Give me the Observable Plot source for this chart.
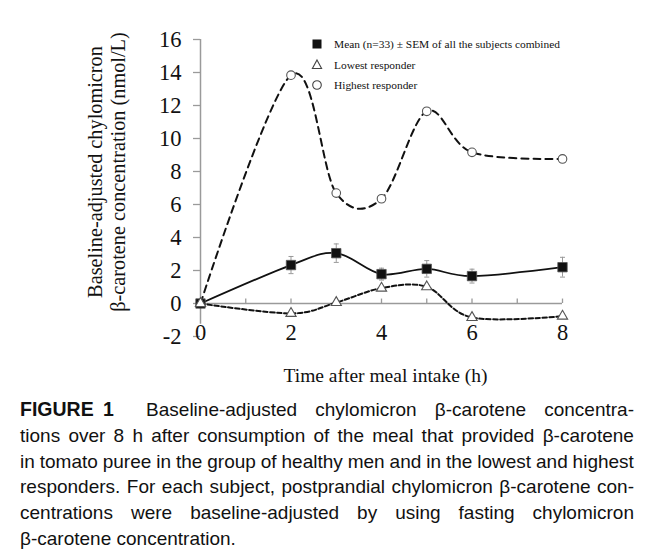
<!DOCTYPE html>
<html>
<head>
<meta charset="utf-8">
<script src="https://cdn.jsdelivr.net/npm/d3@7"></script>
<script src="https://cdn.jsdelivr.net/npm/@observablehq/plot@0.6"></script>
<style>
  body { margin: 0; background: #fff; width: 650px; }
  #wrap { position: relative; width: 650px; }
  #legend { position: absolute; left: 308px; top: 34px; font-family: "Liberation Serif", "Times New Roman", serif; font-size: 11.4px; color: #111; }
  #legend .row { display: flex; align-items: center; height: 20.5px; }
  #legend svg { width: 18px; height: 18px; margin-right: 8px; }
  #caption { font-family: "Liberation Sans", Arial, sans-serif; font-size: 19px; line-height: 25.8px; color: #111; margin: 2px 16px 0 20px; }
  #caption .ln { display: flex; justify-content: space-between; white-space: nowrap; }
  #caption .ln.last { justify-content: flex-start; gap: 0.28em; }
  #caption b { font-weight: bold; font-size: 19.5px; margin-right: 14px; word-spacing: 4px; }
</style>
</head>
<body>
<div id="wrap">
  <div id="chart"></div>
  <div id="legend"></div>
</div>
<div id="caption"></div>
<script>
// ---- data ----
const times = [0, 2, 3, 4, 5, 6, 8];
const meanValues = [0, 2.33, 3.05, 1.78, 2.1, 1.66, 2.2];
const meanSEM = [0, 0.52, 0.56, 0.36, 0.5, 0.42, 0.6];
const lowestValues = [0, -0.6, 0.06, 0.93, 1.01, -0.85, -0.77];
const highestValues = [0, 13.84, 6.69, 6.35, 11.65, 9.16, 8.76];
const yTicks = [-2, 0, 2, 4, 6, 8, 10, 12, 14, 16];
const xTickLabels = [0, 2, 4, 6, 8];
const xMinorTicks = [0, 1, 2, 3, 4, 5, 6, 7, 8];
const legendLabels = ["Mean (n=33) \u00b1 SEM of all the subjects combined", "Lowest responder", "Highest responder"];
const xTitle = "Time after meal intake (h)";
const yTitle = ["Baseline-adjusted chylomicron", "\u03b2-carotene concentration (nmol/L)"];
const captionLines = [
  "<b>FIGURE 1</b> Baseline-adjusted chylomicron \u03b2-carotene concentra-",
  "tions over 8 h after consumption of the meal that provided \u03b2-carotene",
  "in tomato puree in the group of healthy men and in the lowest and highest",
  "responders. For each subject, postprandial chylomicron \u03b2-carotene con-",
  "centrations were baseline-adjusted by using fasting chylomicron",
  "\u03b2-carotene concentration."
];

const meanData = times.map((t, i) => ({t, v: meanValues[i], sem: meanSEM[i]}));
const lowData = times.map((t, i) => ({t, v: lowestValues[i]}));
const highData = times.map((t, i) => ({t, v: highestValues[i]}));

const capSymbol = {draw(ctx, size) { const r = Math.sqrt(size / Math.PI); ctx.moveTo(-r, 0); ctx.lineTo(r, 0); }};
const axisGray = "#9a9a9a";
const curve = "cardinal";

const chart = Plot.plot({
  width: 650,
  height: 395,
  marginLeft: 200,
  marginRight: 88,
  marginTop: 39,
  marginBottom: 59,
  x: {domain: [0, 8]},
  y: {domain: [-2, 16]},
  style: {fontFamily: "'Liberation Serif', 'Times New Roman', serif", color: "#111", background: "#fff", overflow: "visible"},
  marks: [
    Plot.axisY({ticks: yTicks, tickFormat: d => String(d), tickSize: 7, tickPadding: 12, stroke: axisGray, strokeWidth: 1.3, fontSize: 22.5, label: null, fill: "#111"}),
    Plot.axisX({ticks: xTickLabels, tickFormat: d => String(d), tickSize: 0, tickPadding: 0, fontSize: 22.5, label: null, dy: -12, fill: "#111"}),
    Plot.ruleX([0], {y1: -1.25, y2: 16, stroke: axisGray, strokeWidth: 1.5}),
    Plot.ruleY([0], {stroke: axisGray, strokeWidth: 1.5}),
    Plot.ruleX(xMinorTicks, {x: d => d, y1: 0, y2: 0.27, stroke: axisGray, strokeWidth: 1.3}),
    Plot.text([xTitle], {text: d => d, frameAnchor: "bottom", dy: 45, dx: 4, fontSize: 19.5}),
    Plot.text([yTitle.join("\n")], {text: d => d, frameAnchor: "left", textAnchor: "middle", lineAnchor: "middle", rotate: -90, dx: -94, dy: -16, fontSize: 20.3, lineHeight: 1.13}),
    // lines
    Plot.line(highData, {x: "t", y: "v", curve, tension: 0, stroke: "#111", strokeWidth: 2, strokeDasharray: "7,5"}),
    Plot.line(lowData, {x: "t", y: "v", curve, tension: 0, stroke: "#111", strokeWidth: 2, strokeDasharray: "4.5,2.5"}),
    Plot.line(meanData, {x: "t", y: "v", curve, tension: 0, stroke: "#111", strokeWidth: 1.8}),
    // error bars
    Plot.ruleX(meanData.filter(d => d.sem > 0), {x: "t", y1: d => d.v - d.sem, y2: d => d.v + d.sem, stroke: "#999", strokeWidth: 1}),
    Plot.dot(meanData.filter(d => d.sem > 0), {x: "t", y: d => d.v + d.sem, symbol: capSymbol, r: 2.5, stroke: "#999", strokeWidth: 1}),
    Plot.dot(meanData.filter(d => d.sem > 0), {x: "t", y: d => d.v - d.sem, symbol: capSymbol, r: 2.5, stroke: "#999", strokeWidth: 1}),
    // markers
    Plot.dot(highData, {x: "t", y: "v", r: 4.3, fill: "#fff", stroke: "#555", strokeWidth: 1.1}),
    Plot.dot(meanData, {x: "t", y: "v", symbol: "square", r: 5.3, fill: "#111", stroke: "#555", strokeWidth: 0.8}),
    Plot.dot(lowData, {x: "t", y: "v", symbol: "triangle", r: 3.8, fill: "#fff", stroke: "#555", strokeWidth: 1.1})
  ]
});
document.getElementById("chart").appendChild(chart);

// legend
const icons = [
  '<svg viewBox="-9 -9 18 18"><rect x="-4.5" y="-4.5" width="9" height="9" fill="#111"/></svg>',
  '<svg viewBox="-9 -9 18 18"><path d="M0,-5 L4.6,3.5 L-4.6,3.5 Z" fill="#fff" stroke="#444" stroke-width="1.1"/></svg>',
  '<svg viewBox="-9 -9 18 18"><circle r="4.3" fill="#fff" stroke="#444" stroke-width="1.1"/></svg>'
];
document.getElementById("legend").innerHTML = legendLabels.map((l, i) =>
  `<div class="row">${icons[i]}<span>${l}</span></div>`).join("");

// caption with justified lines (tag contents are kept together)
document.getElementById("caption").innerHTML = captionLines.map((line, i) => {
  const last = i === captionLines.length - 1;
  const parts = line.match(/<b>.*?<\/b>|\S+/g).map(w => `<span>${w}</span>`).join("");
  return `<div class="ln${last ? " last" : ""}">${parts}</div>`;
}).join("");
</script>
</body>
</html>
